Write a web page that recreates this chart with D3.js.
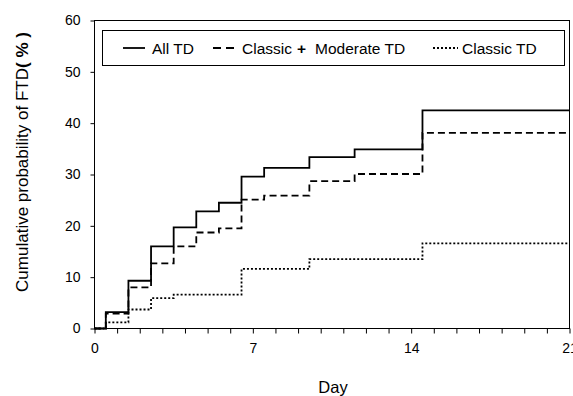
<!DOCTYPE html>
<html>
<head>
<meta charset="utf-8">
<script src="https://cdn.jsdelivr.net/npm/d3@7"></script>
<style>
  body { margin: 0; background: #fff; }
  svg text { font-family: "Liberation Sans", Arial, sans-serif; fill: #000; }
</style>
</head>
<body>
<div id="host"></div>
<script>
// Data
const days = [0, 0.5, 1.5, 2.5, 3.5, 4.5, 5.5, 6.5, 7.5, 9.5, 11.5, 14.5, 21];
const allTD = [0, 3.2, 9.3, 16.0, 19.7, 22.8, 24.5, 29.6, 31.3, 33.4, 34.9, 42.5, 42.5];
const classicModerateTD = [0, 2.9, 8.0, 12.7, 16.0, 18.7, 19.5, 25.1, 25.9, 28.7, 30.1, 38.1, 38.1];
const classicTD = [0, 1.2, 3.7, 5.9, 6.6, 6.6, 6.6, 11.6, 11.6, 13.5, 13.5, 16.6, 16.6];
const xTicks = d3.range(0, 22);
const xLabels = [0, 7, 14, 21];
const yTicks = [0, 10, 20, 30, 40, 50, 60];

// Layout
const width = 573;
const height = 396;
const margin = {left: 94.5, top: 20.5, right: 3.5, bottom: 67.5};

const series = [
    {name: "All TD", values: allTD, dash: null},
    {name: "Classic + Moderate TD", values: classicModerateTD, dash: "7,4"},
    {name: "Classic TD", values: classicTD, dash: "2,2"}
];

const svg = d3.select("#host").append("svg")
    .attr("width", width)
    .attr("height", height);

const x = d3.scaleLinear().domain([0, 21]).range([margin.left, width - margin.right]);
const y = d3.scaleLinear().domain([0, 60]).range([height - margin.bottom, margin.top]);

// Frame
svg.append("rect")
    .attr("x", x(0)).attr("y", y(60))
    .attr("width", x(21) - x(0)).attr("height", y(0) - y(60))
    .attr("fill", "none").attr("stroke", "#000").attr("stroke-width", 1);

// Axes
const xAxis = d3.axisBottom(x)
    .tickValues(xTicks)
    .tickSize(5)
    .tickPadding(10)
    .tickFormat(d => xLabels.includes(d) ? d : "");
svg.append("g")
    .attr("transform", `translate(0,${y(0)})`)
    .call(xAxis)
    .call(g => g.select(".domain").remove())
    .call(g => g.selectAll("text").attr("font-size", 14).style("font-family", "Liberation Sans, Arial, sans-serif"));

const yAxis = d3.axisLeft(y)
    .tickValues(yTicks)
    .tickSize(4)
    .tickPadding(10);
svg.append("g")
    .attr("transform", `translate(${x(0)},0)`)
    .call(yAxis)
    .call(g => g.select(".domain").remove())
    .call(g => g.selectAll("text").attr("font-size", 14).style("font-family", "Liberation Sans, Arial, sans-serif"));

// Step lines
const line = d3.line()
    .x((d, i) => x(days[i]))
    .y(d => y(d))
    .curve(d3.curveStepAfter);

svg.selectAll("path.series")
    .data(series)
    .join("path")
    .attr("class", "series")
    .attr("fill", "none")
    .attr("stroke", "#000")
    .attr("stroke-width", 1.8)
    .attr("stroke-dasharray", d => d.dash)
    .attr("d", d => line(d.values));

// Legend
const legend = svg.append("g");
legend.append("rect")
    .attr("x", 102.5).attr("y", 30.5)
    .attr("width", 462).attr("height", 35)
    .attr("fill", "#fff").attr("stroke", "#000").attr("stroke-width", 1);

const legendItems = [
    {x1: 123, x2: 145, dash: null},
    {x1: 213, x2: 237, dash: "8,5"},
    {x1: 433, x2: 458, dash: "2,2"}
];
legendItems.forEach(item => {
    legend.append("line")
        .attr("x1", item.x1).attr("x2", item.x2)
        .attr("y1", 48).attr("y2", 48)
        .attr("stroke", "#000").attr("stroke-width", 1.8)
        .attr("stroke-dasharray", item.dash);
});
const legendTexts = [
    {x: 152, text: "All TD", bold: false},
    {x: 242, text: "Classic", bold: false},
    {x: 297, text: "+", bold: true},
    {x: 315, text: "Moderate TD", bold: false},
    {x: 462, text: "Classic TD", bold: false}
];
legend.selectAll("text")
    .data(legendTexts)
    .join("text")
    .attr("x", d => d.x).attr("y", 53.5)
    .attr("font-size", 15.5)
    .attr("font-weight", d => d.bold ? "bold" : null)
    .text(d => d.text);

// Axis titles
svg.append("text")
    .attr("x", 333).attr("y", 393)
    .attr("text-anchor", "middle")
    .attr("font-size", 16.5)
    .text("Day");

const yTitle = svg.append("text")
    .attr("transform", `translate(28,162) rotate(-90)`)
    .attr("text-anchor", "middle")
    .attr("font-size", 17);
yTitle.append("tspan").text("Cumulative probability of FTD");
yTitle.append("tspan").attr("font-weight", "bold").text("( % )");
</script>
</body>
</html>
